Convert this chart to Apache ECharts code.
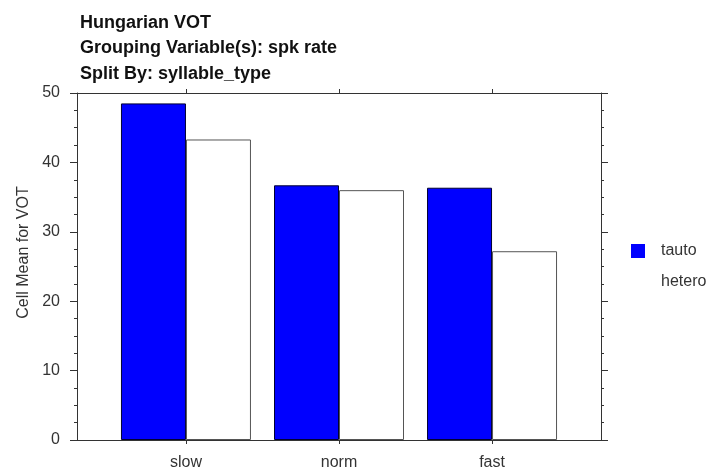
<!DOCTYPE html>
<html>
<head>
<meta charset="utf-8">
<script src="https://cdn.jsdelivr.net/npm/echarts@6/dist/echarts.min.js"></script>
<style>
  html, body { margin: 0; padding: 0; background: #fff; }
  #chart { width: 719px; height: 472px; }
</style>
</head>
<body>
<div id="chart"></div>
<script>
const categories = ["slow", "norm", "fast"];
const tautoValues = [48.5, 36.7, 36.35];
const heteroValues = [43.3, 36.0, 27.2];
const seriesNames = ["tauto", "hetero"];
const titleLines = ["Hungarian VOT", "Grouping Variable(s): spk rate", "Split By: syllable_type"];

const font = "Liberation Sans, Arial, sans-serif";
const centers = categories.map((c, i) => i);

const chart = echarts.init(document.getElementById("chart"));

const xBase = {
  type: "value",
  min: -0.712,
  max: 2.712,
  splitLine: { show: false },
  axisLine: { show: true, onZero: false, lineStyle: { color: "#333", width: 1 } },
};

const yBase = {
  type: "value",
  min: 0,
  max: 50,
  interval: 10,
  splitLine: { show: false },
  axisLine: { show: true, onZero: false, lineStyle: { color: "#333", width: 1 } },
  axisTick: { show: true, length: 7, lineStyle: { color: "#333" } },
  minorTick: { show: true, splitNumber: 4, length: 3, lineStyle: { color: "#333" } },
};

const option = {
  animation: false,
  backgroundColor: "#fff",
  title: {
    text: titleLines.join("\n"),
    left: 75,
    top: 5,
    textStyle: {
      fontFamily: font,
      fontSize: 18,
      fontWeight: "bold",
      color: "#111",
      lineHeight: 25.5,
    },
  },
  legend: {
    orient: "vertical",
    left: 626,
    top: 238,
    itemWidth: 14,
    itemHeight: 14,
    itemGap: 15,
    icon: "rect",
    textStyle: { fontFamily: font, fontSize: 16, color: "#333", padding: [0, 0, 0, 11] },
    data: [
      { name: seriesNames[0], itemStyle: { borderWidth: 0 } },
      { name: seriesNames[1], itemStyle: { borderWidth: 0 } },
    ],
  },
  grid: { left: 77, top: 93, right: 118, bottom: 32 },
  xAxis: [
    {
      ...xBase,
      position: "bottom",
      axisTick: { show: true, length: 4, customValues: centers, lineStyle: { color: "#333" } },
      axisLabel: {
        customValues: centers,
        margin: 15,
        fontFamily: font,
        fontSize: 16,
        color: "#333",
        formatter: v => categories[Math.round(v)],
      },
    },
    {
      ...xBase,
      position: "top",
      axisTick: { show: true, length: 4, customValues: centers, lineStyle: { color: "#333" } },
      axisLabel: { show: false },
    },
  ],
  yAxis: [
    {
      ...yBase,
      position: "left",
      name: "Cell Mean for VOT",
      nameLocation: "middle",
      nameGap: 43,
      nameRotate: 90,
      nameTextStyle: { fontFamily: font, fontSize: 16, color: "#333", padding: [0, 0, 0, 28] },
      axisLabel: { margin: 17, fontFamily: font, fontSize: 16, color: "#333" },
    },
    {
      ...yBase,
      position: "right",
      axisLabel: { show: false },
    },
  ],
  series: [
    {
      name: seriesNames[0],
      type: "bar",
      barWidth: 65,
      barGap: "0%",
      data: tautoValues.map((v, i) => [i, v]),
      itemStyle: { color: "#0000ff", borderColor: "#000033", borderWidth: 1 },
    },
    {
      name: seriesNames[1],
      type: "bar",
      barWidth: 65,
      barGap: "0%",
      data: heteroValues.map((v, i) => [i, v]),
      itemStyle: { color: "#ffffff", borderColor: "#555", borderWidth: 1 },
    },
  ],
};

chart.setOption(option);
</script>
</body>
</html>
